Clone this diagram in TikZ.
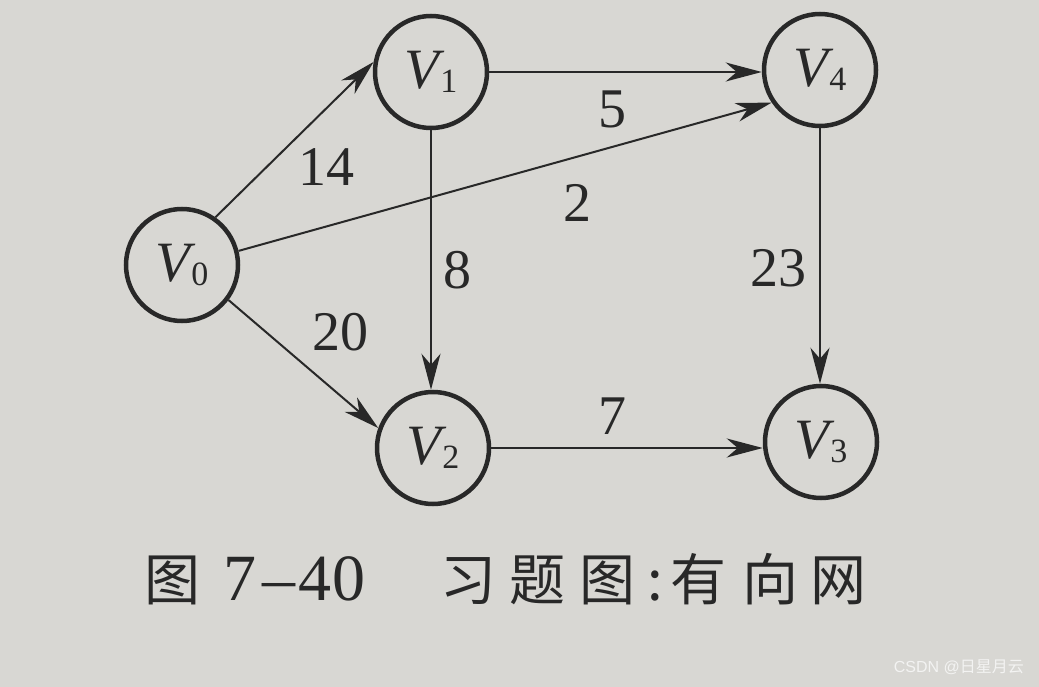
\documentclass[tikz,border=0pt]{standalone}
\usepackage{fontspec}
\setmainfont{Liberation Serif}
\newfontfamily\cjk{Noto Sans CJK SC}
\newfontfamily\wmfont{Liberation Sans}
\usetikzlibrary{arrows.meta}
\definecolor{bg}{RGB}{216,215,211}
\definecolor{ink}{RGB}{40,40,40}
\newcommand{\vlab}[1]{{\fontsize{57}{57}\selectfont\itshape V}\kern1pt\raisebox{-4pt}{\fontsize{34}{34}\selectfont #1}}
\tikzset{
  vnode/.style={circle, draw=ink, line width=4.5pt, minimum size=112pt, inner sep=0pt, text=ink},
  edge/.style={draw=ink, line width=2pt, -{Stealth[length=36pt,width=19pt,inset=11pt]}},
  wlabel/.style={text=ink, font=\rmfamily\fontsize{56}{56}\selectfont, inner sep=0pt},
  capc/.style={text=ink, anchor=base, inner sep=0pt, font=\cjk\fontsize{56}{56}\selectfont},
  capd/.style={text=ink, anchor=base, inner sep=0pt, font=\rmfamily\fontsize{66}{66}\selectfont}
}
\begin{document}
\begin{tikzpicture}[x=1pt,y=-1pt]
\fill[bg] (0,0) rectangle (1039,687);
\useasboundingbox (0,0) rectangle (1039,687);
\node[vnode] (v0) at (182,265) {\vlab{0}};
\node[vnode] (v1) at (431,72) {\vlab{1}};
\node[vnode] (v4) at (820,70) {\vlab{4}};
\node[vnode] (v2) at (433,448) {\vlab{2}};
\node[vnode] (v3) at (821,442) {\vlab{3}};
\draw[edge] (v0.55) -- (v1.170);
\draw[edge] (v0.14) -- (v4.214);
\draw[edge] (v0.-37) -- (v2.160);
\draw[edge] (v1.east) -- (v4.west |- v1.east);
\draw[edge] (v1.south) -- (v1.south |- v2.north);
\draw[edge] (v4.south) -- (v4.south |- v3.north);
\draw[edge] (v2.east) -- (v3.west |- v2.east);
\node[wlabel] (l14) at (326,167) {14};
\node[wlabel] (l5) at (612,109) {5};
\node[wlabel] (l2) at (577,203) {2};
\node[wlabel] (l8) at (457,270) {8};
\node[wlabel] (l23) at (778,268) {23};
\node[wlabel] (l20) at (340,332) {20};
\node[wlabel] (l7) at (612,416) {7};
\node[capc] (c1) at (172,600) {图};
\node[capd] (c2) at (240,600) {7};
\node[capd] (c3) at (279,600) {–};
\node[capd] (c4) at (315,600) {4};
\node[capd] (c5) at (349,600) {0};
\node[capc] (c6) at (468,600) {习};
\node[capc] (c7) at (537,600) {题};
\node[capc] (c8) at (607,600) {图};
\node[capc] (c9) at (655,600) {:};
\node[capc] (c10) at (698,600) {有};
\node[capc] (c11) at (770,600) {向};
\node[capc] (c12) at (838,600) {网};
\node[text=white!70!bg, anchor=base east, inner sep=0pt] (wm) at (1024,672) {\wmfont\fontsize{16}{16}\selectfont CSDN @\cjk 日星月云};
\end{tikzpicture}
\end{document}
